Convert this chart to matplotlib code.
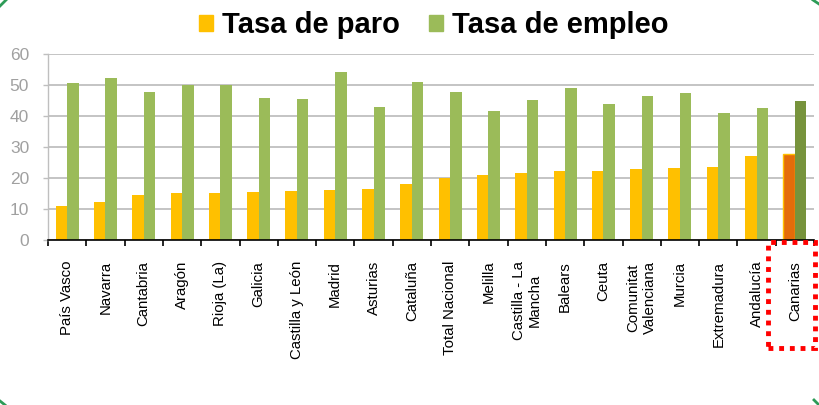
import matplotlib
matplotlib.use("Agg")
import matplotlib.pyplot as plt
import numpy as np
from matplotlib.patches import Rectangle
from matplotlib.lines import Line2D

plt.rcParams['font.family'] = ['Liberation Sans', 'DejaVu Sans']

categories = ["País Vasco", "Navarra", "Cantabria", "Aragón", "Rioja (La)", "Galicia",
              "Castilla y León", "Madrid", "Asturias", "Cataluña", "Total Nacional",
              "Melilla", "Castilla - La\nMancha", "Balears", "Ceuta", "Comunitat\nValenciana",
              "Murcia", "Extremadura", "Andalucía", "Canarias"]
tasa_paro = [11.0, 12.4, 14.4, 15.3, 15.3, 15.6, 15.9, 16.3, 16.6, 18.1, 20.0,
             21.0, 21.5, 22.3, 22.3, 22.9, 23.2, 23.5, 27.2, 27.7]
tasa_empleo = [50.8, 52.3, 47.8, 50.0, 50.1, 45.9, 45.7, 54.4, 43.1, 51.0, 47.7,
               41.8, 45.2, 49.2, 43.8, 46.5, 47.4, 40.9, 42.8, 45.0]
series_names = ["Tasa de paro", "Tasa de empleo"]
highlight = "Canarias"

c_paro, c_empleo = "#FFC000", "#9BBB59"
c_paro_hl, c_empleo_hl = "#E46C0A", "#77933C"

W, H = 819, 405
fig = plt.figure(figsize=(W / 100, H / 100), dpi=100)
ax = fig.add_axes([48 / W, 1 - 240 / H, (814 - 48) / W, (240 - 54.3) / H])

x = np.arange(len(categories))
bw = 0.3
cp = [c_paro_hl if c == highlight else c_paro for c in categories]
ce = [c_empleo_hl if c == highlight else c_empleo for c in categories]
ep = ["#FFC000" if c == highlight else "none" for c in categories]
ax.bar(x - bw / 2, tasa_paro, bw, color=cp, edgecolor=ep, linewidth=1, zorder=3)
ax.bar(x + bw / 2, tasa_empleo, bw, color=ce, zorder=3)

ax.set_xlim(-0.5, len(categories) - 0.5)
ax.set_ylim(0, 60)
ax.set_yticks(np.arange(0, 61, 10))
ax.yaxis.grid(True, color="#BFBFBF", linewidth=1.3, zorder=0)
ax.tick_params(axis="y", colors="#BFBFBF", labelsize=12.5, length=3.6, width=1, pad=10,
               labelcolor="#A0A0A0")

ax.set_xticks(x)
ax.set_xticklabels(categories, rotation=90, fontsize=10.8, ha="center", va="top",
                   multialignment="center")
ax.tick_params(axis="x", which="major", length=0, pad=15)
ax.set_xticks(np.arange(-0.5, len(categories), 1.0), minor=True)
ax.tick_params(axis="x", which="minor", length=4, width=1.2, color="black", direction="out")

for s in ["top", "right"]:
    ax.spines[s].set_visible(False)
ax.spines["left"].set_color("#BFBFBF")
ax.spines["left"].set_linewidth(1.0)
ax.spines["bottom"].set_color("black")
ax.spines["bottom"].set_linewidth(1.2)
ax.spines["bottom"].set_zorder(4)

handles = [Rectangle((0, 0), 1, 1, color=c_paro), Rectangle((0, 0), 1, 1, color=c_empleo)]
leg = fig.legend(handles, series_names, loc="center", bbox_to_anchor=(434 / W, 1 - 25 / H),
                 ncol=2, frameon=False, handlelength=0.48, handleheight=0.48,
                 handletextpad=0.3, columnspacing=1.0,
                 prop={"size": 21, "weight": "bold"})

# red dotted highlight box around the Canarias label
fig.patches.append(Rectangle((768 / W, 1 - 348 / H), (815 - 768) / W, (348 - 242) / H,
                             transform=fig.transFigure, fill=False, edgecolor="#FF0000",
                             linewidth=3.5, linestyle=(0, (1, 1.2)), zorder=10))

# corners of the green rounded frame that lies just outside the canvas
corners = [((0, 6), (0, 6)), ((813, 819), (0, 4)), ((0, 5), (401, 405)), ((814, 819), (405, 400))]
for (xa, xb), (ya, yb) in corners:
    fig.lines.append(Line2D([xa / W, xb / W], [1 - yb / H, 1 - ya / H] if (xa == 0) == (ya == 0) else [1 - ya / H, 1 - yb / H],
                            transform=fig.transFigure, color="#2E9B57", linewidth=2))

fig.savefig("out.png", dpi=100)
